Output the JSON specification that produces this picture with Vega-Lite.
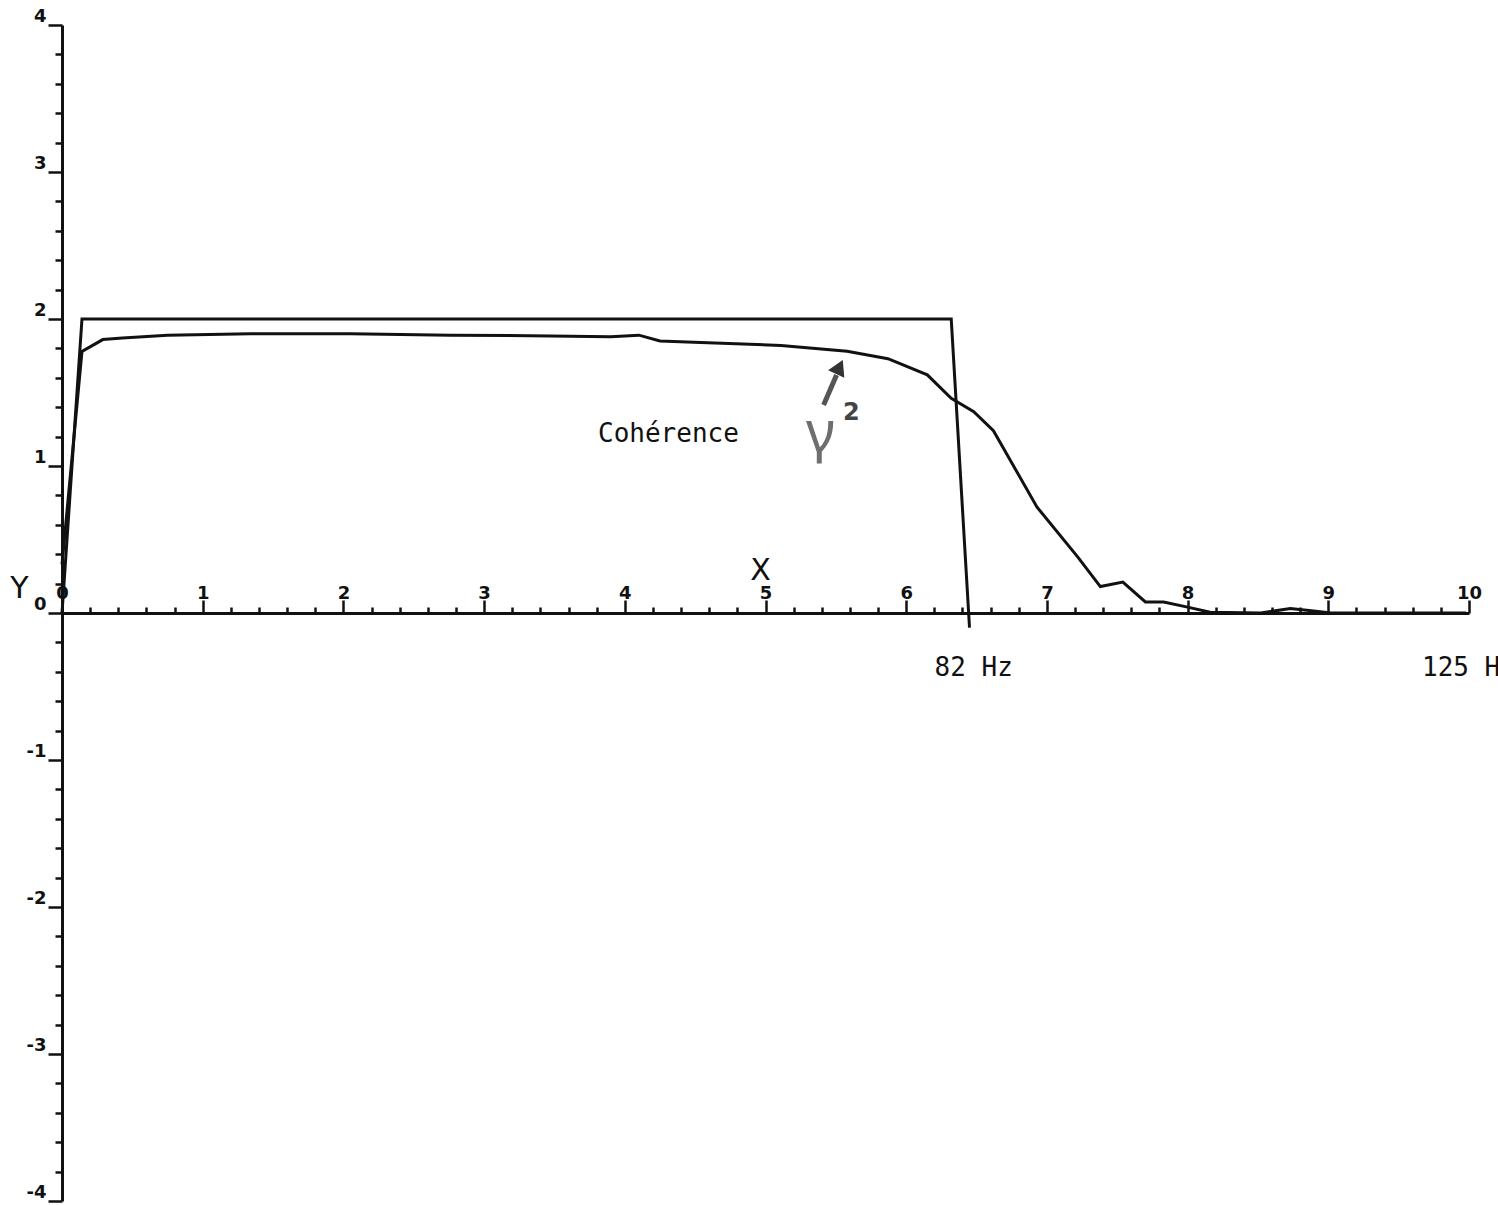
{
  "$schema": "https://vega.github.io/schema/vega-lite/v6.json",
  "width": 1407,
  "height": 1176,
  "autosize": {"type": "none"},
  "padding": {"left": 62, "top": 25, "right": 29, "bottom": 4},
  "background": "white",
  "config": {"view": {"stroke": null}},
  "resolve": {"axis": {"x": "independent", "y": "independent"}},
  "datasets": {
    "curves": [
      {"s": "ideal", "x": 0, "y": 0},
      {"s": "ideal", "x": 0.142, "y": 2},
      {"s": "ideal", "x": 6.32, "y": 2},
      {"s": "ideal", "x": 6.45, "y": -0.1},
      {"s": "coherence", "x": 0, "y": 0.33},
      {"s": "coherence", "x": 0.142, "y": 1.78},
      {"s": "coherence", "x": 0.29, "y": 1.86},
      {"s": "coherence", "x": 0.43, "y": 1.87},
      {"s": "coherence", "x": 0.75, "y": 1.89},
      {"s": "coherence", "x": 1.34, "y": 1.9},
      {"s": "coherence", "x": 2.05, "y": 1.9},
      {"s": "coherence", "x": 2.76, "y": 1.89},
      {"s": "coherence", "x": 3.47, "y": 1.885},
      {"s": "coherence", "x": 3.9, "y": 1.88},
      {"s": "coherence", "x": 4.1, "y": 1.89},
      {"s": "coherence", "x": 4.25, "y": 1.85},
      {"s": "coherence", "x": 4.54, "y": 1.84},
      {"s": "coherence", "x": 5.11, "y": 1.82},
      {"s": "coherence", "x": 5.58, "y": 1.78},
      {"s": "coherence", "x": 5.87, "y": 1.73},
      {"s": "coherence", "x": 6.15, "y": 1.62},
      {"s": "coherence", "x": 6.32, "y": 1.46},
      {"s": "coherence", "x": 6.48, "y": 1.37},
      {"s": "coherence", "x": 6.62, "y": 1.24},
      {"s": "coherence", "x": 6.93, "y": 0.72},
      {"s": "coherence", "x": 7.22, "y": 0.38},
      {"s": "coherence", "x": 7.38, "y": 0.18},
      {"s": "coherence", "x": 7.54, "y": 0.21},
      {"s": "coherence", "x": 7.7, "y": 0.075},
      {"s": "coherence", "x": 7.83, "y": 0.075},
      {"s": "coherence", "x": 8.0, "y": 0.04},
      {"s": "coherence", "x": 8.16, "y": 0.005},
      {"s": "coherence", "x": 8.52, "y": 0},
      {"s": "coherence", "x": 8.73, "y": 0.03},
      {"s": "coherence", "x": 8.88, "y": 0.015},
      {"s": "coherence", "x": 9.02, "y": 0},
      {"s": "coherence", "x": 9.98, "y": 0}
    ],
    "labels": [
      {"x": 4.31, "y": 1.218, "t": "Cohérence"},
      {"x": 6.48, "y": -0.374, "t": "82 Hz"}
    ],
    "labelsLeft": [
      {"x": 9.666, "y": -0.374, "t": "125 Hz"}
    ],
    "gamma": [{"x": 5.39, "y": 1.22, "t": "γ"}],
    "sup": [{"x": 5.61, "y": 1.36, "t": "2"}],
    "arrow": [{"x": 5.413, "y": 1.415, "x2": 5.505, "y2": 1.619}],
    "head": [{"x": 5.526, "y": 1.673}]
  },
  "layer": [
    {
      "data": {"name": "curves"},
      "mark": {"type": "line", "color": "#111", "strokeWidth": 3},
      "encoding": {
        "x": {
          "field": "x", "type": "quantitative",
          "scale": {"domain": [0, 10], "nice": false, "zero": false},
          "axis": {
            "orient": "top", "offset": -588, "grid": false,
            "values": [0,1,2,3,4,5,6,7,8,9,10],
            "format": "d",
            "tickSize": 13, "tickWidth": 2.5, "tickColor": "#111",
            "domainColor": "#111", "domainWidth": 3,
            "labelOverlap": false, "labelBound": false, "labelFlush": false,
            "labelAlign": "center", "labelBaseline": "bottom", "labelDx": 5, "labelPadding": -2,
            "labelFont": "DejaVu Sans", "labelFontSize": 18, "labelFontWeight": "bold", "labelColor": "#111",
            "title": "X", "titleX": 698, "titleY": -28, "titleAlign": "center", "titleBaseline": "bottom", "titleAngle": 0,
            "titleFont": "DejaVu Sans", "titleFontSize": 30, "titleFontWeight": "normal", "titleColor": "#111"
          }
        },
        "y": {
          "field": "y", "type": "quantitative",
          "scale": {"domain": [-4, 4], "nice": false, "zero": false},
          "axis": {
            "orient": "left", "grid": false,
            "values": [-4,-3,-2,-1,0,1,2,3,4],
            "labelExpr": "'' + datum.value",
            "tickSize": 14, "tickWidth": 2.5, "tickColor": "#111",
            "domainColor": "#111", "domainWidth": 3,
            "labelOverlap": false, "labelBound": false, "labelFlush": false,
            "labelAlign": "right", "labelBaseline": "bottom", "labelDy": 4, "labelPadding": 2,
            "labelFont": "DejaVu Sans", "labelFontSize": 18, "labelFontWeight": "bold", "labelColor": "#111",
            "title": "Y", "titleX": -43, "titleY": 563, "titleAlign": "center", "titleBaseline": "middle", "titleAngle": 0,
            "titleFont": "DejaVu Sans", "titleFontSize": 30, "titleFontWeight": "normal", "titleColor": "#111"
          }
        },
        "detail": {"field": "s", "type": "nominal"}
      }
    },
    {
      "data": {"name": "labels"},
      "mark": {"type": "text", "font": "DejaVu Sans Mono", "fontSize": 26, "color": "#111", "align": "center", "baseline": "middle", "clip": false},
      "encoding": {
        "x": {
          "field": "x", "type": "quantitative",
          "axis": {
            "orient": "top", "offset": -588, "grid": false, "title": null,
            "values": [0.2,0.4,0.6,0.8,1.2,1.4,1.6,1.8,2.2,2.4,2.6,2.8,3.2,3.4,3.6,3.8,4.2,4.4,4.6,4.8,5.2,5.4,5.6,5.8,6.2,6.4,6.6,6.8,7.2,7.4,7.6,7.8,8.2,8.4,8.6,8.8,9.2,9.4,9.6,9.8],
            "labels": false, "domain": false,
            "tickSize": 6, "tickWidth": 2.5, "tickColor": "#111"
          }
        },
        "y": {
          "field": "y", "type": "quantitative",
          "axis": {
            "orient": "left", "grid": false, "title": null,
            "values": [-3.8,-3.6,-3.4,-3.2,-2.8,-2.6,-2.4,-2.2,-1.8,-1.6,-1.4,-1.2,-0.8,-0.6,-0.4,-0.2,0.2,0.4,0.6,0.8,1.2,1.4,1.6,1.8,2.2,2.4,2.6,2.8,3.2,3.4,3.6,3.8],
            "labels": false, "domain": false,
            "tickSize": 7, "tickWidth": 2.5, "tickColor": "#111"
          }
        },
        "text": {"field": "t"}
      }
    },
    {
      "data": {"name": "labelsLeft"},
      "mark": {"type": "text", "font": "DejaVu Sans Mono", "fontSize": 26, "color": "#111", "align": "left", "baseline": "middle", "clip": false},
      "encoding": {
        "x": {"field": "x", "type": "quantitative", "axis": null},
        "y": {"field": "y", "type": "quantitative", "axis": null},
        "text": {"field": "t"}
      }
    },
    {
      "data": {"name": "gamma"},
      "mark": {"type": "text", "font": "Noto Sans", "fontSize": 56, "color": "#6e6e6e", "align": "center", "baseline": "middle"},
      "encoding": {
        "x": {"field": "x", "type": "quantitative", "axis": null},
        "y": {"field": "y", "type": "quantitative", "axis": null},
        "text": {"field": "t"}
      }
    },
    {
      "data": {"name": "sup"},
      "mark": {"type": "text", "font": "DejaVu Sans", "fontSize": 24, "fontWeight": "bold", "color": "#444", "align": "center", "baseline": "middle"},
      "encoding": {
        "x": {"field": "x", "type": "quantitative", "axis": null},
        "y": {"field": "y", "type": "quantitative", "axis": null},
        "text": {"field": "t"}
      }
    },
    {
      "data": {"name": "arrow"},
      "mark": {"type": "rule", "color": "#555", "strokeWidth": 5},
      "encoding": {
        "x": {"field": "x", "type": "quantitative", "axis": null},
        "y": {"field": "y", "type": "quantitative", "axis": null},
        "x2": {"field": "x2"},
        "y2": {"field": "y2"}
      }
    },
    {
      "data": {"name": "head"},
      "mark": {"type": "point", "shape": "triangle-up", "angle": 25, "size": 320, "filled": true, "color": "#333", "opacity": 1},
      "encoding": {
        "x": {"field": "x", "type": "quantitative", "axis": null},
        "y": {"field": "y", "type": "quantitative", "axis": null}
      }
    }
  ]
}
